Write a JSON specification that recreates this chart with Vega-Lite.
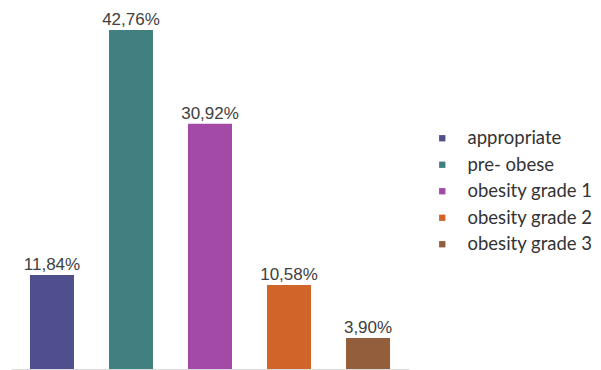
{
  "$schema": "https://vega.github.io/schema/vega-lite/v6.json",
  "autosize": "none",
  "width": 398,
  "height": 369,
  "padding": {"left": 11, "top": 0, "right": 192, "bottom": 1},
  "background": "white",
  "config": {"view": {"stroke": null}},
  "data": {
    "values": [
      {"category": "appropriate", "value": 11.84, "label": "11,84%"},
      {"category": "pre- obese", "value": 42.76, "label": "42,76%"},
      {"category": "obesity grade 1", "value": 30.92, "label": "30,92%"},
      {"category": "obesity grade 2", "value": 10.58, "label": "10,58%"},
      {"category": "obesity grade 3", "value": 3.90, "label": "3,90%"}
    ]
  },
  "encoding": {
    "x": {
      "field": "category",
      "type": "nominal",
      "sort": null,
      "scale": {"paddingInner": 0.443, "paddingOuter": 0.24},
      "axis": {"title": null, "labels": false, "ticks": false, "domainColor": "#d9d9d9", "domainWidth": 1, "grid": false}
    },
    "y": {
      "field": "value",
      "type": "quantitative",
      "scale": {"domain": [0, 46.54], "nice": false},
      "axis": null
    }
  },
  "layer": [
    {
      "mark": {"type": "bar"},
      "encoding": {
        "color": {
          "field": "category",
          "type": "nominal",
          "sort": null,
          "scale": {
            "domain": ["appropriate", "pre- obese", "obesity grade 1", "obesity grade 2", "obesity grade 3"],
            "range": ["#4f4f8e", "#408080", "#a34aa6", "#d0652a", "#935e3b"]
          },
          "legend": {
            "title": null,
            "orient": "none",
            "legendX": 422,
            "legendY": 129,
            "padding": 0,
            "symbolType": "square",
            "symbolSize": 40,
            "symbolStrokeWidth": 0,
            "labelFont": "Lato",
            "labelFontSize": 18.5,
            "labelColor": "#333333",
            "labelOffset": 16,
            "rowPadding": 7.5,
            "labelLimit": 300
          }
        }
      }
    },
    {
      "mark": {"type": "text", "baseline": "alphabetic", "dy": -5, "font": "Liberation Sans", "fontSize": 17, "color": "#404040"},
      "encoding": {"text": {"field": "label"}}
    }
  ]
}
